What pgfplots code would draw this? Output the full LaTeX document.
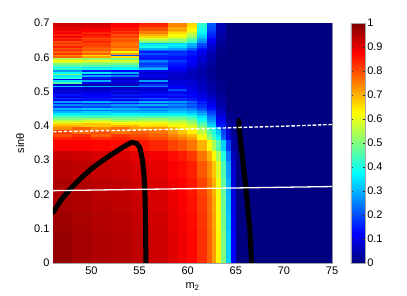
\documentclass[border=0pt]{standalone}
\usepackage{fontspec}
\setmainfont{Liberation Sans}
\usepackage{pgfplots}
\pgfplotsset{compat=1.18}
\newcommand\fs{\fontsize{11}{13}\selectfont}
\begin{document}
\begin{tikzpicture}
\useasboundingbox (-53pt,-33pt) rectangle (354pt,263pt);
\begin{axis}[
  at={(0pt,0pt)}, anchor=south west,
  scale only axis, width=279pt, height=240pt,
  xmin=46, xmax=75, ymin=0, ymax=0.7,
  xtick={50,55,60,65,70,75},
  ytick={0,0.1,0.2,0.3,0.4,0.5,0.6,0.7},
  /pgf/number format/assume math mode=true,
  tick label style={font=\fs},
  label style={font=\fs},
  xlabel={m\textsubscript{2}},
  ylabel={sinθ},
  xlabel style={at={(axis description cs:0.5,-0.106)}, anchor=base},
  ylabel style={at={(axis description cs:-0.118,0.5)}, anchor=center},
  tick align=inside, major tick length=3pt, tick style={black!80},
  axis line style={draw=gray!70},
  colormap/jet, point meta min=0, point meta max=1,
  colorbar,
  colorbar style={
    at={(parent axis.north east)}, anchor=north west, xshift=10.3pt,
    scale only axis, width=14.4pt, height=240pt,
    ytick={0,0.1,0.2,0.3,0.4,0.5,0.6,0.7,0.8,0.9,1},
    yticklabel style={font=\fs, xshift=-1.5pt},
    /pgf/number format/assume math mode=true,
    axis line style={draw=gray!70},
    tick align=inside, major tick length=2.5pt, tick style={black!80},
  },
]
% lower region (sin theta 0 -- 0.40), cell value at lower-left node
\addplot[surf, shader=flat corner, point meta=explicit, mesh/cols=18, mesh/rows=13]
table[x=x, y=y, meta=c, row sep=\\] {
x y c\\
46 0 0.98\\ 48 0 0.965\\ 50 0 0.955\\ 52 0 0.95\\ 54 0 0.94\\ 56 0 0.925\\ 58 0 0.905\\ 59 0 0.89\\ 60 0 0.87\\ 61 0 0.83\\ 62 0 0.78\\ 62.5 0 0.72\\ 63 0 0.63\\ 63.5 0 0.50\\ 64 0 0.33\\ 64.5 0 0.12\\ 65 0 0\\ 75 0 0\\
46 0.05 0.975\\ 48 0.05 0.965\\ 50 0.05 0.955\\ 52 0.05 0.95\\ 54 0.05 0.94\\ 56 0.05 0.925\\ 58 0.05 0.905\\ 59 0.05 0.89\\ 60 0.05 0.87\\ 61 0.05 0.83\\ 62 0.05 0.78\\ 62.5 0.05 0.72\\ 63 0.05 0.63\\ 63.5 0.05 0.50\\ 64 0.05 0.33\\ 64.5 0.05 0.12\\ 65 0.05 0\\ 75 0.05 0\\
46 0.10 0.97\\ 48 0.10 0.96\\ 50 0.10 0.95\\ 52 0.10 0.945\\ 54 0.10 0.935\\ 56 0.10 0.92\\ 58 0.10 0.90\\ 59 0.10 0.885\\ 60 0.10 0.865\\ 61 0.10 0.825\\ 62 0.10 0.775\\ 62.5 0.10 0.715\\ 63 0.10 0.625\\ 63.5 0.10 0.49\\ 64 0.10 0.32\\ 64.5 0.10 0.11\\ 65 0.10 0\\ 75 0.10 0\\
46 0.15 0.96\\ 48 0.15 0.955\\ 50 0.15 0.945\\ 52 0.15 0.94\\ 54 0.15 0.93\\ 56 0.15 0.915\\ 58 0.15 0.895\\ 59 0.15 0.88\\ 60 0.15 0.86\\ 61 0.15 0.82\\ 62 0.15 0.77\\ 62.5 0.15 0.71\\ 63 0.15 0.62\\ 63.5 0.15 0.48\\ 64 0.15 0.31\\ 64.5 0.15 0.10\\ 65 0.15 0\\ 75 0.15 0\\
46 0.20 0.955\\ 48 0.20 0.95\\ 50 0.20 0.94\\ 52 0.20 0.935\\ 54 0.20 0.925\\ 56 0.20 0.91\\ 58 0.20 0.89\\ 59 0.20 0.875\\ 60 0.20 0.855\\ 61 0.20 0.81\\ 62 0.20 0.76\\ 62.5 0.20 0.70\\ 63 0.20 0.61\\ 63.5 0.20 0.47\\ 64 0.20 0.30\\ 64.5 0.20 0.09\\ 65 0.20 0\\ 75 0.20 0\\
46 0.25 0.945\\ 48 0.25 0.94\\ 50 0.25 0.93\\ 52 0.25 0.925\\ 54 0.25 0.915\\ 56 0.25 0.90\\ 58 0.25 0.88\\ 59 0.25 0.865\\ 60 0.25 0.845\\ 61 0.25 0.79\\ 62 0.25 0.74\\ 62.5 0.25 0.68\\ 63 0.25 0.59\\ 63.5 0.25 0.45\\ 64 0.25 0.28\\ 64.5 0.25 0.08\\ 65 0.25 0\\ 75 0.25 0\\
46 0.30 0.93\\ 48 0.30 0.925\\ 50 0.30 0.915\\ 52 0.30 0.91\\ 54 0.30 0.90\\ 56 0.30 0.885\\ 58 0.30 0.865\\ 59 0.30 0.85\\ 60 0.30 0.82\\ 61 0.30 0.76\\ 62 0.30 0.70\\ 62.5 0.30 0.63\\ 63 0.30 0.54\\ 63.5 0.30 0.41\\ 64 0.30 0.24\\ 64.5 0.30 0.06\\ 65 0.30 0\\ 75 0.30 0\\
46 0.33 0.88\\ 48 0.33 0.875\\ 50 0.33 0.87\\ 52 0.33 0.865\\ 54 0.33 0.855\\ 56 0.33 0.84\\ 58 0.33 0.81\\ 59 0.33 0.79\\ 60 0.33 0.76\\ 61 0.33 0.70\\ 62 0.33 0.62\\ 62.5 0.33 0.54\\ 63 0.33 0.45\\ 63.5 0.33 0.33\\ 64 0.33 0.18\\ 64.5 0.33 0.04\\ 65 0.33 0\\ 75 0.33 0\\
46 0.36 0.84\\ 48 0.36 0.85\\ 50 0.36 0.83\\ 52 0.36 0.84\\ 54 0.36 0.82\\ 56 0.36 0.80\\ 58 0.36 0.77\\ 59 0.36 0.75\\ 60 0.36 0.72\\ 61 0.36 0.63\\ 62 0.36 0.52\\ 62.5 0.36 0.45\\ 63 0.36 0.37\\ 63.5 0.36 0.22\\ 64 0.36 0.10\\ 64.5 0.36 0.03\\ 65 0.36 0\\ 75 0.36 0\\
46 0.37 0.80\\ 48 0.37 0.83\\ 50 0.37 0.78\\ 52 0.37 0.82\\ 54 0.37 0.80\\ 56 0.37 0.78\\ 58 0.37 0.75\\ 59 0.37 0.72\\ 60 0.37 0.69\\ 61 0.37 0.61\\ 62 0.37 0.50\\ 62.5 0.37 0.43\\ 63 0.37 0.35\\ 63.5 0.37 0.20\\ 64 0.37 0.09\\ 64.5 0.37 0.02\\ 65 0.37 0\\ 75 0.37 0\\
46 0.38 0.82\\ 48 0.38 0.77\\ 50 0.38 0.80\\ 52 0.38 0.76\\ 54 0.38 0.78\\ 56 0.38 0.76\\ 58 0.38 0.72\\ 59 0.38 0.68\\ 60 0.38 0.64\\ 61 0.38 0.56\\ 62 0.38 0.46\\ 62.5 0.38 0.40\\ 63 0.38 0.32\\ 63.5 0.38 0.19\\ 64 0.38 0.08\\ 64.5 0.38 0.01\\ 65 0.38 0\\ 75 0.38 0\\
46 0.39 0.74\\ 48 0.39 0.78\\ 50 0.39 0.74\\ 52 0.39 0.77\\ 54 0.39 0.72\\ 56 0.39 0.73\\ 58 0.39 0.69\\ 59 0.39 0.65\\ 60 0.39 0.61\\ 61 0.39 0.53\\ 62 0.39 0.44\\ 62.5 0.39 0.38\\ 63 0.39 0.30\\ 63.5 0.39 0.17\\ 64 0.39 0.07\\ 64.5 0.39 0.01\\ 65 0.39 0\\ 75 0.39 0\\
46 0.40 0.74\\ 48 0.40 0.78\\ 50 0.40 0.74\\ 52 0.40 0.77\\ 54 0.40 0.72\\ 56 0.40 0.73\\ 58 0.40 0.69\\ 59 0.40 0.65\\ 60 0.40 0.61\\ 61 0.40 0.53\\ 62 0.40 0.44\\ 62.5 0.40 0.38\\ 63 0.40 0.30\\ 63.5 0.40 0.17\\ 64 0.40 0.07\\ 64.5 0.40 0.01\\ 65 0.40 0\\ 75 0.40 0\\
};
% upper striped region (sin theta 0.40 -- 0.70)
\addplot[surf, shader=flat corner, point meta=explicit, mesh/cols=12, mesh/rows=61]
table[x=x, y=y, meta=c, row sep=\\] {
x y c\\
46 0.400 0.70\\ 49 0.400 0.68\\ 52 0.400 0.70\\ 55 0.400 0.66\\ 58 0.400 0.62\\ 60 0.400 0.58\\ 61 0.400 0.48\\ 62 0.400 0.34\\ 63 0.400 0.15\\ 64 0.400 0.03\\ 65 0.400 0\\ 75 0.400 0\\
46 0.405 0.66\\ 49 0.405 0.68\\ 52 0.405 0.64\\ 55 0.405 0.64\\ 58 0.405 0.60\\ 60 0.405 0.55\\ 61 0.405 0.46\\ 62 0.405 0.32\\ 63 0.405 0.14\\ 64 0.405 0.03\\ 65 0.405 0\\ 75 0.405 0\\
46 0.410 0.60\\ 49 0.410 0.62\\ 52 0.410 0.62\\ 55 0.410 0.60\\ 58 0.410 0.57\\ 60 0.410 0.52\\ 61 0.410 0.43\\ 62 0.410 0.30\\ 63 0.410 0.13\\ 64 0.410 0.02\\ 65 0.410 0\\ 75 0.410 0\\
46 0.415 0.56\\ 49 0.415 0.58\\ 52 0.415 0.55\\ 55 0.415 0.56\\ 58 0.415 0.54\\ 60 0.415 0.50\\ 61 0.415 0.40\\ 62 0.415 0.28\\ 63 0.415 0.12\\ 64 0.415 0.02\\ 65 0.415 0\\ 75 0.415 0\\
46 0.420 0.50\\ 49 0.420 0.52\\ 52 0.420 0.50\\ 55 0.420 0.52\\ 58 0.420 0.50\\ 60 0.420 0.46\\ 61 0.420 0.37\\ 62 0.420 0.26\\ 63 0.420 0.11\\ 64 0.420 0.02\\ 65 0.420 0\\ 75 0.420 0\\
46 0.425 0.46\\ 49 0.425 0.44\\ 52 0.425 0.46\\ 55 0.425 0.45\\ 58 0.425 0.46\\ 60 0.425 0.43\\ 61 0.425 0.35\\ 62 0.425 0.24\\ 63 0.425 0.10\\ 64 0.425 0.01\\ 65 0.425 0\\ 75 0.425 0\\
46 0.430 0.40\\ 49 0.430 0.42\\ 52 0.430 0.40\\ 55 0.430 0.40\\ 58 0.430 0.40\\ 60 0.430 0.38\\ 61 0.430 0.32\\ 62 0.430 0.22\\ 63 0.430 0.09\\ 64 0.430 0.01\\ 65 0.430 0\\ 75 0.430 0\\
46 0.435 0.36\\ 49 0.435 0.35\\ 52 0.435 0.37\\ 55 0.435 0.36\\ 58 0.435 0.36\\ 60 0.435 0.34\\ 61 0.435 0.29\\ 62 0.435 0.20\\ 63 0.435 0.08\\ 64 0.435 0.01\\ 65 0.435 0\\ 75 0.435 0\\
46 0.440 0.30\\ 49 0.440 0.33\\ 52 0.440 0.30\\ 55 0.440 0.30\\ 58 0.440 0.32\\ 60 0.440 0.30\\ 61 0.440 0.26\\ 62 0.440 0.18\\ 63 0.440 0.07\\ 64 0.440 0\\ 65 0.440 0\\ 75 0.440 0\\
46 0.445 0.24\\ 49 0.445 0.22\\ 52 0.445 0.26\\ 55 0.445 0.25\\ 58 0.445 0.28\\ 60 0.445 0.27\\ 61 0.445 0.23\\ 62 0.445 0.16\\ 63 0.445 0.06\\ 64 0.445 0\\ 65 0.445 0\\ 75 0.445 0\\
46 0.450 0.30\\ 49 0.450 0.32\\ 52 0.450 0.30\\ 55 0.450 0.28\\ 58 0.450 0.28\\ 60 0.450 0.25\\ 61 0.450 0.20\\ 62 0.450 0.14\\ 63 0.450 0.05\\ 64 0.450 0\\ 65 0.450 0\\ 75 0.450 0\\
46 0.455 0.18\\ 49 0.455 0.20\\ 52 0.455 0.22\\ 55 0.455 0.20\\ 58 0.455 0.22\\ 60 0.455 0.20\\ 61 0.455 0.17\\ 62 0.455 0.12\\ 63 0.455 0.05\\ 64 0.455 0\\ 65 0.455 0\\ 75 0.455 0\\
46 0.460 0.26\\ 49 0.460 0.24\\ 52 0.460 0.28\\ 55 0.460 0.30\\ 58 0.460 0.26\\ 60 0.460 0.22\\ 61 0.460 0.17\\ 62 0.460 0.11\\ 63 0.460 0.04\\ 64 0.460 0\\ 65 0.460 0\\ 75 0.460 0\\
46 0.465 0.14\\ 49 0.465 0.16\\ 52 0.465 0.15\\ 55 0.465 0.18\\ 58 0.465 0.20\\ 60 0.465 0.18\\ 61 0.465 0.14\\ 62 0.465 0.10\\ 63 0.465 0.04\\ 64 0.465 0\\ 65 0.465 0\\ 75 0.465 0\\
46 0.470 0.28\\ 49 0.470 0.30\\ 52 0.470 0.26\\ 55 0.470 0.30\\ 58 0.470 0.28\\ 60 0.470 0.22\\ 61 0.470 0.16\\ 62 0.470 0.10\\ 63 0.470 0.04\\ 64 0.470 0\\ 65 0.470 0\\ 75 0.470 0\\
46 0.475 0.12\\ 49 0.475 0.14\\ 52 0.475 0.12\\ 55 0.475 0.15\\ 58 0.475 0.16\\ 60 0.475 0.15\\ 61 0.475 0.12\\ 62 0.475 0.08\\ 63 0.475 0.03\\ 64 0.475 0\\ 65 0.475 0\\ 75 0.475 0\\
46 0.480 0.18\\ 49 0.480 0.15\\ 52 0.480 0.20\\ 55 0.480 0.22\\ 58 0.480 0.18\\ 60 0.480 0.15\\ 61 0.480 0.12\\ 62 0.480 0.08\\ 63 0.480 0.03\\ 64 0.480 0\\ 65 0.480 0\\ 75 0.480 0\\
46 0.485 0.10\\ 49 0.485 0.12\\ 52 0.485 0.10\\ 55 0.485 0.12\\ 58 0.485 0.12\\ 60 0.485 0.12\\ 61 0.485 0.10\\ 62 0.485 0.07\\ 63 0.485 0.02\\ 64 0.485 0\\ 65 0.485 0\\ 75 0.485 0\\
46 0.490 0.14\\ 49 0.490 0.12\\ 52 0.490 0.15\\ 55 0.490 0.14\\ 58 0.490 0.15\\ 60 0.490 0.13\\ 61 0.490 0.10\\ 62 0.490 0.06\\ 63 0.490 0.02\\ 64 0.490 0\\ 65 0.490 0\\ 75 0.490 0\\
46 0.495 0.08\\ 49 0.495 0.10\\ 52 0.495 0.06\\ 55 0.495 0.10\\ 58 0.495 0.10\\ 60 0.495 0.10\\ 61 0.495 0.08\\ 62 0.495 0.05\\ 63 0.495 0.02\\ 64 0.495 0\\ 65 0.495 0\\ 75 0.495 0\\
46 0.500 0.12\\ 49 0.500 0.10\\ 52 0.500 0.14\\ 55 0.500 0.12\\ 58 0.500 0.14\\ 60 0.500 0.12\\ 61 0.500 0.08\\ 62 0.500 0.05\\ 63 0.500 0.02\\ 64 0.500 0\\ 65 0.500 0\\ 75 0.500 0\\
46 0.505 0.06\\ 49 0.505 0.05\\ 52 0.505 0.08\\ 55 0.505 0.06\\ 58 0.505 0.20\\ 60 0.505 0.10\\ 61 0.505 0.07\\ 62 0.505 0.04\\ 63 0.505 0.01\\ 64 0.505 0\\ 65 0.505 0\\ 75 0.505 0\\
46 0.510 0.10\\ 49 0.510 0.08\\ 52 0.510 0.06\\ 55 0.510 0.10\\ 58 0.510 0.12\\ 60 0.510 0.10\\ 61 0.510 0.07\\ 62 0.510 0.04\\ 63 0.510 0.01\\ 64 0.510 0\\ 65 0.510 0\\ 75 0.510 0\\
46 0.515 0.32\\ 49 0.515 0.30\\ 52 0.515 0.28\\ 55 0.515 0.25\\ 58 0.515 0.12\\ 60 0.515 0.09\\ 61 0.515 0.06\\ 62 0.515 0.04\\ 63 0.515 0.01\\ 64 0.515 0\\ 65 0.515 0\\ 75 0.515 0\\
46 0.520 0.06\\ 49 0.520 0.05\\ 52 0.520 0.06\\ 55 0.520 0.18\\ 58 0.520 0.10\\ 60 0.520 0.08\\ 61 0.520 0.06\\ 62 0.520 0.03\\ 63 0.520 0.01\\ 64 0.520 0\\ 65 0.520 0\\ 75 0.520 0\\
46 0.525 0.45\\ 49 0.525 0.10\\ 52 0.525 0.08\\ 55 0.525 0.08\\ 58 0.525 0.08\\ 60 0.525 0.08\\ 61 0.525 0.06\\ 62 0.525 0.03\\ 63 0.525 0.01\\ 64 0.525 0\\ 65 0.525 0\\ 75 0.525 0\\
46 0.530 0.35\\ 49 0.530 0.30\\ 52 0.530 0.10\\ 55 0.530 0.28\\ 58 0.530 0.10\\ 60 0.530 0.08\\ 61 0.530 0.05\\ 62 0.530 0.03\\ 63 0.530 0.01\\ 64 0.530 0\\ 65 0.530 0\\ 75 0.530 0\\
46 0.535 0.10\\ 49 0.535 0.08\\ 52 0.535 0.06\\ 55 0.535 0.06\\ 58 0.535 0.06\\ 60 0.535 0.06\\ 61 0.535 0.05\\ 62 0.535 0.03\\ 63 0.535 0.01\\ 64 0.535 0\\ 65 0.535 0\\ 75 0.535 0\\
46 0.540 0.40\\ 49 0.540 0.15\\ 52 0.540 0.10\\ 55 0.540 0.08\\ 58 0.540 0.06\\ 60 0.540 0.06\\ 61 0.540 0.05\\ 62 0.540 0.02\\ 63 0.540 0\\ 64 0.540 0\\ 65 0.540 0\\ 75 0.540 0\\
46 0.545 0.35\\ 49 0.545 0.30\\ 52 0.545 0.25\\ 55 0.545 0.10\\ 58 0.545 0.08\\ 60 0.545 0.06\\ 61 0.545 0.04\\ 62 0.545 0.02\\ 63 0.545 0\\ 64 0.545 0\\ 65 0.545 0\\ 75 0.545 0\\
46 0.550 0.50\\ 49 0.550 0.12\\ 52 0.550 0.10\\ 55 0.550 0.10\\ 58 0.550 0.06\\ 60 0.550 0.05\\ 61 0.550 0.04\\ 62 0.550 0.02\\ 63 0.550 0\\ 64 0.550 0\\ 65 0.550 0\\ 75 0.550 0\\
46 0.555 0.38\\ 49 0.555 0.36\\ 52 0.555 0.30\\ 55 0.555 0.08\\ 58 0.555 0.08\\ 60 0.555 0.06\\ 61 0.555 0.04\\ 62 0.555 0.02\\ 63 0.555 0\\ 64 0.555 0\\ 65 0.555 0\\ 75 0.555 0\\
46 0.560 0.28\\ 49 0.560 0.15\\ 52 0.560 0.12\\ 55 0.560 0.12\\ 58 0.560 0.10\\ 60 0.560 0.06\\ 61 0.560 0.04\\ 62 0.560 0.02\\ 63 0.560 0\\ 64 0.560 0\\ 65 0.560 0\\ 75 0.560 0\\
46 0.565 0.42\\ 49 0.565 0.40\\ 52 0.565 0.38\\ 55 0.565 0.30\\ 58 0.565 0.12\\ 60 0.565 0.08\\ 61 0.565 0.05\\ 62 0.565 0.02\\ 63 0.565 0\\ 64 0.565 0\\ 65 0.565 0\\ 75 0.565 0\\
46 0.570 0.38\\ 49 0.570 0.35\\ 52 0.570 0.36\\ 55 0.570 0.25\\ 58 0.570 0.12\\ 60 0.570 0.08\\ 61 0.570 0.05\\ 62 0.570 0.02\\ 63 0.570 0\\ 64 0.570 0\\ 65 0.570 0\\ 75 0.570 0\\
46 0.575 0.46\\ 49 0.575 0.45\\ 52 0.575 0.44\\ 55 0.575 0.20\\ 58 0.575 0.14\\ 60 0.575 0.10\\ 61 0.575 0.06\\ 62 0.575 0.03\\ 63 0.575 0\\ 64 0.575 0\\ 65 0.575 0\\ 75 0.575 0\\
46 0.580 0.50\\ 49 0.580 0.50\\ 52 0.580 0.48\\ 55 0.580 0.18\\ 58 0.580 0.15\\ 60 0.580 0.11\\ 61 0.580 0.06\\ 62 0.580 0.03\\ 63 0.580 0\\ 64 0.580 0\\ 65 0.580 0\\ 75 0.580 0\\
46 0.585 0.58\\ 49 0.585 0.55\\ 52 0.585 0.56\\ 55 0.585 0.22\\ 58 0.585 0.16\\ 60 0.585 0.12\\ 61 0.585 0.07\\ 62 0.585 0.03\\ 63 0.585 0\\ 64 0.585 0\\ 65 0.585 0\\ 75 0.585 0\\
46 0.590 0.62\\ 49 0.590 0.60\\ 52 0.590 0.58\\ 55 0.590 0.25\\ 58 0.590 0.18\\ 60 0.590 0.13\\ 61 0.590 0.08\\ 62 0.590 0.04\\ 63 0.590 0\\ 64 0.590 0\\ 65 0.590 0\\ 75 0.590 0\\
46 0.595 0.55\\ 49 0.595 0.52\\ 52 0.595 0.50\\ 55 0.595 0.15\\ 58 0.595 0.14\\ 60 0.595 0.12\\ 61 0.595 0.08\\ 62 0.595 0.04\\ 63 0.595 0\\ 64 0.595 0\\ 65 0.595 0\\ 75 0.595 0\\
46 0.600 0.78\\ 49 0.600 0.72\\ 52 0.600 0.66\\ 55 0.600 0.15\\ 58 0.600 0.14\\ 60 0.600 0.12\\ 61 0.600 0.08\\ 62 0.600 0.04\\ 63 0.600 0\\ 64 0.600 0\\ 65 0.600 0\\ 75 0.600 0\\
46 0.605 0.74\\ 49 0.605 0.66\\ 52 0.605 0.20\\ 55 0.605 0.16\\ 58 0.605 0.16\\ 60 0.605 0.13\\ 61 0.605 0.09\\ 62 0.605 0.04\\ 63 0.605 0\\ 64 0.605 0\\ 65 0.605 0\\ 75 0.605 0\\
46 0.610 0.82\\ 49 0.610 0.78\\ 52 0.610 0.72\\ 55 0.610 0.20\\ 58 0.610 0.18\\ 60 0.610 0.15\\ 61 0.610 0.10\\ 62 0.610 0.05\\ 63 0.610 0.01\\ 64 0.610 0\\ 65 0.610 0\\ 75 0.610 0\\
46 0.615 0.78\\ 49 0.615 0.74\\ 52 0.615 0.62\\ 55 0.615 0.15\\ 58 0.615 0.16\\ 60 0.615 0.14\\ 61 0.615 0.10\\ 62 0.615 0.05\\ 63 0.615 0.01\\ 64 0.615 0\\ 65 0.615 0\\ 75 0.615 0\\
46 0.620 0.84\\ 49 0.620 0.80\\ 52 0.620 0.76\\ 55 0.620 0.22\\ 58 0.620 0.22\\ 60 0.620 0.18\\ 61 0.620 0.12\\ 62 0.620 0.06\\ 63 0.620 0.01\\ 64 0.620 0\\ 65 0.620 0\\ 75 0.620 0\\
46 0.625 0.80\\ 49 0.625 0.78\\ 52 0.625 0.74\\ 55 0.625 0.30\\ 58 0.625 0.28\\ 60 0.625 0.22\\ 61 0.625 0.14\\ 62 0.625 0.07\\ 63 0.625 0.01\\ 64 0.625 0\\ 65 0.625 0\\ 75 0.625 0\\
46 0.630 0.85\\ 49 0.630 0.80\\ 52 0.630 0.78\\ 55 0.630 0.40\\ 58 0.630 0.34\\ 60 0.630 0.28\\ 61 0.630 0.18\\ 62 0.630 0.08\\ 63 0.630 0.02\\ 64 0.630 0\\ 65 0.630 0\\ 75 0.630 0\\
46 0.635 0.80\\ 49 0.635 0.82\\ 52 0.635 0.76\\ 55 0.635 0.36\\ 58 0.635 0.36\\ 60 0.635 0.30\\ 61 0.635 0.20\\ 62 0.635 0.09\\ 63 0.635 0.02\\ 64 0.635 0\\ 65 0.635 0\\ 75 0.635 0\\
46 0.640 0.84\\ 49 0.640 0.80\\ 52 0.640 0.76\\ 55 0.640 0.32\\ 58 0.640 0.34\\ 60 0.640 0.30\\ 61 0.640 0.20\\ 62 0.640 0.09\\ 63 0.640 0.02\\ 64 0.640 0\\ 65 0.640 0\\ 75 0.640 0\\
46 0.645 0.80\\ 49 0.645 0.84\\ 52 0.645 0.78\\ 55 0.645 0.50\\ 58 0.645 0.48\\ 60 0.645 0.42\\ 61 0.645 0.26\\ 62 0.645 0.11\\ 63 0.645 0.03\\ 64 0.645 0\\ 65 0.645 0\\ 75 0.645 0\\
46 0.650 0.86\\ 49 0.650 0.82\\ 52 0.650 0.80\\ 55 0.650 0.55\\ 58 0.650 0.52\\ 60 0.650 0.45\\ 61 0.650 0.28\\ 62 0.650 0.12\\ 63 0.650 0.03\\ 64 0.650 0\\ 65 0.650 0\\ 75 0.650 0\\
46 0.655 0.82\\ 49 0.655 0.80\\ 52 0.655 0.76\\ 55 0.655 0.60\\ 58 0.655 0.55\\ 60 0.655 0.48\\ 61 0.655 0.30\\ 62 0.655 0.13\\ 63 0.655 0.03\\ 64 0.655 0\\ 65 0.655 0\\ 75 0.655 0\\
46 0.660 0.88\\ 49 0.660 0.84\\ 52 0.660 0.82\\ 55 0.660 0.66\\ 58 0.660 0.60\\ 60 0.660 0.52\\ 61 0.660 0.33\\ 62 0.660 0.15\\ 63 0.660 0.04\\ 64 0.660 0\\ 65 0.660 0\\ 75 0.660 0\\
46 0.665 0.84\\ 49 0.665 0.86\\ 52 0.665 0.80\\ 55 0.665 0.70\\ 58 0.665 0.62\\ 60 0.665 0.55\\ 61 0.665 0.35\\ 62 0.665 0.16\\ 63 0.665 0.04\\ 64 0.665 0\\ 65 0.665 0\\ 75 0.665 0\\
46 0.670 0.88\\ 49 0.670 0.84\\ 52 0.670 0.84\\ 55 0.670 0.75\\ 58 0.670 0.66\\ 60 0.670 0.58\\ 61 0.670 0.37\\ 62 0.670 0.17\\ 63 0.670 0.04\\ 64 0.670 0\\ 65 0.670 0\\ 75 0.670 0\\
46 0.675 0.86\\ 49 0.675 0.88\\ 52 0.675 0.82\\ 55 0.675 0.74\\ 58 0.675 0.68\\ 60 0.675 0.60\\ 61 0.675 0.38\\ 62 0.675 0.18\\ 63 0.675 0.05\\ 64 0.675 0\\ 65 0.675 0\\ 75 0.675 0\\
46 0.680 0.90\\ 49 0.680 0.88\\ 52 0.680 0.86\\ 55 0.680 0.80\\ 58 0.680 0.72\\ 60 0.680 0.62\\ 61 0.680 0.40\\ 62 0.680 0.19\\ 63 0.680 0.05\\ 64 0.680 0\\ 65 0.680 0\\ 75 0.680 0\\
46 0.685 0.90\\ 49 0.685 0.90\\ 52 0.685 0.86\\ 55 0.685 0.80\\ 58 0.685 0.70\\ 60 0.685 0.64\\ 61 0.685 0.40\\ 62 0.685 0.20\\ 63 0.685 0.05\\ 64 0.685 0\\ 65 0.685 0\\ 75 0.685 0\\
46 0.690 0.93\\ 49 0.690 0.90\\ 52 0.690 0.88\\ 55 0.690 0.84\\ 58 0.690 0.76\\ 60 0.690 0.66\\ 61 0.690 0.42\\ 62 0.690 0.20\\ 63 0.690 0.05\\ 64 0.690 0\\ 65 0.690 0\\ 75 0.690 0\\
46 0.695 0.92\\ 49 0.695 0.92\\ 52 0.695 0.88\\ 55 0.695 0.84\\ 58 0.695 0.74\\ 60 0.695 0.66\\ 61 0.695 0.42\\ 62 0.695 0.21\\ 63 0.695 0.05\\ 64 0.695 0\\ 65 0.695 0\\ 75 0.695 0\\
46 0.700 0.92\\ 49 0.700 0.92\\ 52 0.700 0.88\\ 55 0.700 0.84\\ 58 0.700 0.74\\ 60 0.700 0.66\\ 61 0.700 0.42\\ 62 0.700 0.21\\ 63 0.700 0.05\\ 64 0.700 0\\ 65 0.700 0\\ 75 0.700 0\\
};
\addplot[black, line width=5pt, line cap=round, line join=round] coordinates {
(46,0.148) (47,0.19) (48,0.222) (49,0.25) (50,0.275) (51,0.296) (52,0.315) (53,0.333) (53.7,0.345) (54.2,0.352) (54.7,0.349) (55.05,0.335) (55.3,0.30) (55.45,0.262) (55.56,0.2) (55.63,0.1) (55.65,0)};
\addplot[black, line width=5pt, line cap=round, line join=round] coordinates {
(65.3,0.415) (65.45,0.37) (65.65,0.32) (65.85,0.27) (66.05,0.22) (66.25,0.16) (66.45,0.1) (66.55,0.05) (66.65,0)};
\addplot[white, line width=1.3pt] coordinates {(46,0.211) (75,0.223)};
\addplot[white, line width=1.4pt, dash pattern=on 3.5pt off 1.8pt] coordinates {
(46,0.383) (55,0.388) (62,0.392) (65,0.395) (70,0.399) (75,0.404)};
\end{axis}
\end{tikzpicture}
\end{document}
